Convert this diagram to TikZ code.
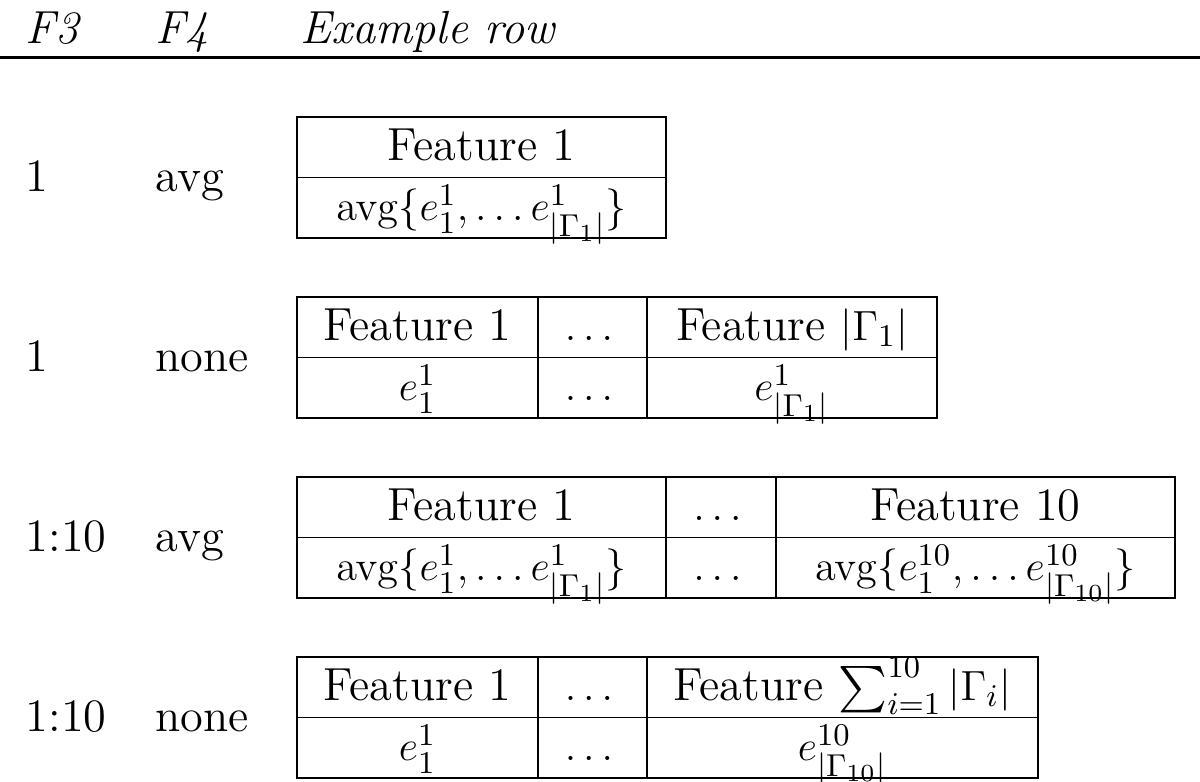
\documentclass[tikz,border=0pt]{standalone}
\usepackage{amsmath,amsfonts,amssymb}
\usepackage{tikz}

\tikzset{
  cell/.style={draw, line width=0.5pt, inner sep=0pt, outer sep=0pt, anchor=north west,
    minimum height=0.605cm, text height=0.43cm, text depth=0.175cm},
  lbl/.style={anchor=base west, inner sep=0pt},
}

\begin{document}
\begin{tikzpicture}[font=\fontsize{13.2}{15.5}\selectfont]

    \useasboundingbox (0,0) rectangle (12,-7.82);

    % header
    \node[lbl] (hf3) at (0.25,-0.43) {\textit{F3}};
    \node[lbl] (hf4) at (1.55,-0.43) {\textit{F4}};
    \node[lbl] (hex) at (3.00,-0.43) {\textit{Example row}};
    \coordinate (rl) at (0,-0.575);
    \coordinate (rr) at (12,-0.575);
    \draw [line width=0.6pt] (rl) -- (rr);

    % row 1
    \node[lbl] (fa) at (0.25,-1.91) {1};
    \node[lbl] (ga) at (1.55,-1.91) {avg};
    \node[cell, minimum width=3.69cm] (aa) at (2.97,-1.17) {Feature 1};
    \node[cell, minimum width=3.69cm] (ab) at (aa.south west) {$\mathrm{avg}\{e_1^1,\dots e_{|\Gamma_1|}^1\}$};

    % row 2
    \node[lbl] (fb) at (0.25,-3.71) {1};
    \node[lbl] (gb) at (1.55,-3.71) {none};
    \node[cell, minimum width=2.41cm] (ba) at (2.97,-2.97) {Feature 1};
    \node[cell, minimum width=1.09cm] (bb) at (ba.north east) {$\dots$};
    \node[cell, minimum width=2.90cm] (bc) at (bb.north east) {Feature $|\Gamma_1|$};
    \node[cell, minimum width=2.41cm] (bd) at (ba.south west) {$e_1^1$};
    \node[cell, minimum width=1.09cm] (be) at (bd.north east) {$\dots$};
    \node[cell, minimum width=2.90cm] (bf) at (be.north east) {$e_{|\Gamma_1|}^1$};

    % row 3
    \node[lbl] (fc) at (0.25,-5.51) {1:10};
    \node[lbl] (gc) at (1.55,-5.51) {avg};
    \node[cell, minimum width=3.69cm] (ca) at (2.97,-4.77) {Feature 1};
    \node[cell, minimum width=1.10cm] (cb) at (ca.north east) {$\dots$};
    \node[cell, minimum width=3.99cm] (cc) at (cb.north east) {Feature 10};
    \node[cell, minimum width=3.69cm] (cd) at (ca.south west) {$\mathrm{avg}\{e_1^1,\dots e_{|\Gamma_1|}^1\}$};
    \node[cell, minimum width=1.10cm] (ce) at (cd.north east) {$\dots$};
    \node[cell, minimum width=3.99cm] (cf) at (ce.north east) {$\mathrm{avg}\{e_1^{10},\dots e_{|\Gamma_{10}|}^{10}\}$};

    % row 4
    \node[lbl] (fd) at (0.25,-7.31) {1:10};
    \node[lbl] (gd) at (1.55,-7.31) {none};
    \node[cell, minimum width=2.41cm] (da) at (2.97,-6.57) {Feature 1};
    \node[cell, minimum width=1.09cm] (db) at (da.north east) {$\dots$};
    \node[cell, minimum width=3.91cm] (dc) at (db.north east) {Feature $\sum_{i=1}^{10}|\Gamma_i|$};
    \node[cell, minimum width=2.41cm] (dd) at (da.south west) {$e_1^1$};
    \node[cell, minimum width=1.09cm] (de) at (dd.north east) {$\dots$};
    \node[cell, minimum width=3.91cm] (df) at (de.north east) {$e_{|\Gamma_{10}|}^{10}$};

\end{tikzpicture}
\end{document}
